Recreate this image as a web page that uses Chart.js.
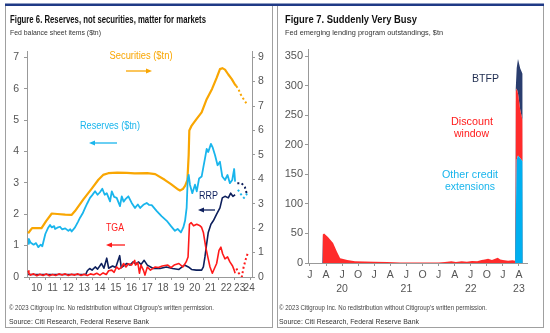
<!DOCTYPE html>
<html>
<head>
<meta charset="utf-8">
<script src="https://cdn.jsdelivr.net/npm/chart.js@4"></script>
<style>
html,body{margin:0;padding:0;background:#fff;}
#wrap{position:relative;width:550px;height:333px;overflow:hidden;background:#fff;}
canvas{position:absolute;}
svg{position:absolute;left:0;top:0;pointer-events:none;}
</style>
</head>
<body>
<div id="wrap">
<canvas id="cl" width="275" height="260" style="left:0;top:40px"></canvas>
<canvas id="cr" width="275" height="260" style="left:275px;top:40px"></canvas>
<svg width="550" height="333" viewBox="0 0 550 333">
  <rect x="5.5" y="5.5" width="267" height="322" fill="none" stroke="#a0a0a0" stroke-width="1"/>
  <rect x="277.5" y="5.5" width="266" height="322" fill="none" stroke="#a0a0a0" stroke-width="1"/>
  <rect x="5" y="3.5" width="539" height="2.5" fill="#1f3a86"/>
  <line x1="126" y1="71" x2="147" y2="71" stroke="#f9a602" stroke-width="1.3"/>
  <polygon points="152,71 146,68.5 146,73.5" fill="#f9a602"/>
  <line x1="117" y1="143" x2="94" y2="143" stroke="#19b5ec" stroke-width="1.3"/>
  <polygon points="89,143 95,140.5 95,145.5" fill="#19b5ec"/>
  <line x1="125" y1="245" x2="111" y2="245" stroke="#ff1a1a" stroke-width="1.3"/>
  <polygon points="106,245 112,242.5 112,247.5" fill="#ff1a1a"/>
  <line x1="215" y1="210" x2="203" y2="210" stroke="#0d1f5c" stroke-width="1.3"/>
  <polygon points="198,210 204,207.5 204,212.5" fill="#0d1f5c"/>
</svg>
</div>
<script>
// ---------- Figure 6 data (decimal years) ----------
const secYears = [2009.95,2010.2,2010.8,2011.1,2011.45,2011.8,2012.3,2012.7,2012.92,2013.45,2013.98,2014.4,2014.7,2015.03,2015.6,2016.2,2016.7,2017.5,2018.0,2018.6,2019.0,2019.46,2019.57,2019.75,2019.9,2020.04,2020.12,2020.16,2020.31,2020.6,2020.94,2021.26,2021.6,2021.89,2022.1,2022.25,2022.42,2022.63,2022.85,2023.05,2023.14];
const secVals  = [1.79,2.0,2.0,2.3,2.6,2.58,2.55,2.54,2.7,3.18,3.62,3.98,4.18,4.25,4.27,4.26,4.24,4.25,4.21,3.98,3.8,3.58,3.54,3.6,3.74,3.98,5.0,6.0,6.2,6.45,6.74,7.28,7.7,8.15,8.51,8.55,8.49,8.29,8.1,7.88,7.82];
const secProjYears = [2023.14,2023.29,2023.41,2023.56,2023.71,2023.81];
const secProjVals  = [7.82,7.66,7.48,7.32,7.17,7.07];

const resYears = [2009.95,2010.0,2010.1,2010.3,2010.45,2010.6,2010.75,2010.85,2011.04,2011.2,2011.34,2011.45,2011.6,2011.66,2011.8,2011.97,2012.1,2012.3,2012.5,2012.62,2012.71,2012.92,2013.1,2013.24,2013.4,2013.56,2013.7,2013.87,2014.0,2014.19,2014.35,2014.5,2014.65,2014.8,2014.93,2015.14,2015.25,2015.4,2015.56,2015.77,2015.88,2016.0,2016.1,2016.3,2016.51,2016.72,2016.9,2017.05,2017.25,2017.46,2017.6,2017.78,2018.1,2018.4,2018.73,2019.0,2019.25,2019.42,2019.63,2019.78,2019.89,2019.99,2020.06,2020.12,2020.2,2020.35,2020.52,2020.63,2020.78,2020.94,2021.05,2021.15,2021.26,2021.36,2021.53,2021.63,2021.79,2021.95,2022.1,2022.25,2022.42,2022.58,2022.73,2022.88,2023.0,2023.06];
const resVals  = [1.06,1.21,1.1,1.03,1.08,0.95,1.03,0.98,1.37,1.55,1.66,1.58,1.62,1.53,1.57,1.6,1.52,1.55,1.47,1.52,1.45,1.58,1.75,1.89,2.02,2.2,2.35,2.52,2.6,2.73,2.62,2.7,2.81,2.62,2.67,2.41,2.73,2.55,2.52,2.26,2.57,2.4,2.47,2.57,2.36,2.2,2.31,2.2,2.3,2.36,2.3,2.29,2.1,1.94,1.79,1.62,1.47,1.53,1.42,1.58,1.79,2.2,3.14,3.25,2.94,2.67,2.94,2.73,3.14,3.2,3.5,3.77,4.08,3.98,4.24,4.14,3.88,3.56,3.67,3.2,3.09,3.25,2.99,3.09,3.44,3.04];
const resProjYears = [2023.24,2023.41,2023.62,2023.77,2023.87];
const resProjVals  = [2.78,2.65,2.52,2.62,2.7];

const rrpYears = [2009.95,2013.6,2013.7,2013.85,2014.0,2014.2,2014.35,2014.6,2014.75,2014.93,2015.05,2015.3,2015.5,2015.75,2015.85,2016.2,2016.4,2016.6,2016.75,2016.95,2017.1,2017.3,2017.5,2017.88,2018.3,2018.7,2019.1,2019.5,2019.85,2020.1,2020.3,2020.6,2020.94,2021.05,2021.15,2021.26,2021.36,2021.53,2021.68,2021.89,2022.1,2022.25,2022.42,2022.63,2022.78,2022.92,2023.06];
const rrpVals  = [0.08,0.08,0.2,0.27,0.22,0.32,0.25,0.43,0.28,0.6,0.28,0.35,0.3,0.68,0.3,0.43,0.38,0.48,0.42,0.48,0.4,0.53,0.38,0.27,0.27,0.32,0.27,0.24,0.38,0.32,0.24,0.22,0.22,0.32,0.64,1.06,1.42,1.68,1.79,2.0,2.2,2.52,2.57,2.52,2.67,2.57,2.62];
const rrpProjYears = [2023.2,2023.47,2023.68,2023.79];
const rrpProjVals  = [2.99,2.99,2.86,2.67];

const tgaYears = [2009.95,2010.0,2010.1,2010.3,2010.5,2010.7,2010.9,2011.1,2011.3,2011.5,2011.7,2011.9,2012.1,2012.3,2012.5,2012.7,2012.9,2013.1,2013.3,2013.5,2013.7,2013.9,2014.1,2014.3,2014.5,2014.7,2014.9,2015.05,2015.25,2015.4,2015.55,2015.7,2015.85,2016.0,2016.15,2016.3,2016.5,2016.7,2016.75,2016.9,2017.0,2017.1,2017.25,2017.35,2017.5,2017.7,2018.0,2018.2,2018.45,2018.8,2019.0,2019.2,2019.5,2019.75,2019.96,2020.08,2020.17,2020.28,2020.43,2020.63,2020.84,2020.94,2021.05,2021.2,2021.33,2021.47,2021.62,2021.75,2021.89,2022.04,2022.16,2022.27,2022.42,2022.58,2022.73,2022.9,2023.0,2023.06];
const tgaVals  = [0.2,0.12,0.06,0.1,0.04,0.09,0.05,0.1,0.04,0.08,0.05,0.1,0.06,0.1,0.05,0.09,0.06,0.1,0.05,0.09,0.05,0.1,0.07,0.12,0.06,0.13,0.08,0.2,0.22,0.15,0.32,0.25,0.3,0.43,0.32,0.42,0.38,0.53,0.38,0.45,0.12,0.38,0.22,0.06,0.32,0.22,0.32,0.3,0.35,0.38,0.3,0.38,0.43,0.32,0.48,0.64,1.68,1.73,1.63,1.68,1.63,1.58,1.42,0.95,0.64,0.32,0.12,0.27,0.43,0.85,0.95,0.74,0.58,0.64,0.48,0.35,0.22,0.12];
const tgaProjYears = [2023.14,2023.28,2023.49,2023.6,2023.75,2023.85];
const tgaProjVals  = [0.27,0.13,0.01,0.32,0.59,0.74];

const leftTicks  = [0,1,2,3,4,5,6,7];
const rightTicks = [0,1,2,3,4,5,6,7,8,9];
const yearTickVals   = [2010.5,2011.5,2012.5,2013.5,2014.5,2015.5,2016.5,2017.5,2018.5,2019.5,2020.5,2021.5,2022.5,2023.35,2023.95];
const yearTickLabels = ['10','11','12','13','14','15','16','17','18','19','20','21','22','23','24'];

// ---------- Figure 7 data (decimal years, $bn) ----------
const lendDates = [2020.0,2020.19,2020.2,2020.22,2020.28,2020.36,2020.42,2020.47,2020.58,2020.7,2020.85,2021.0,2021.2,2021.4,2021.6,2021.8,2022.0,2022.1,2022.2,2022.27,2022.36,2022.44,2022.52,2022.6,2022.67,2022.72,2022.77,2022.83,2022.88,2022.92,2022.96,2023.0,2023.08,2023.15,2023.19,2023.2,2023.215,2023.235,2023.27,2023.305,2023.31];
const otherCredit    = [0,0,0,0,0,0,0,0,0,0,0,0,0,0,0,0,0,0,0,0,0,0,0,0,0,0,0,0,0,0,0,0,0,0,0,0,175,182,177,172,0];
const discountWindow = [0,0,48,50,44,34,19,8,5,3,2.5,2,1.5,1,0.8,0.8,1,1.5,3,1.5,3,2,3.5,3,5,6,7,5,7,9,6,5,4,4.5,4,290,120,105,82,70,0];
const btfp           = [0,0,0,0,0,0,0,0,0,0,0,0,0,0,0,0,0,0,0,0,0,0,0,0,0,0,0,0,0,0,0,0,0,0,0,5,35,58,70,78,0];
const lendTicks = [0,50,100,150,200,250,300,350];
const qTicks  = [2020.0,2020.25,2020.5,2020.75,2021.0,2021.25,2021.5,2021.75,2022.0,2022.25,2022.5,2022.75,2023.0,2023.25];
const qLabels = ['J','A','J','O','J','A','J','O','J','A','J','O','J','A'];
const yrLabels = ['','','20','','','','21','','','','22','','','23'];

// ---------- helpers ----------
const pts = (xs, ys) => xs.map((x, i) => ({x: x, y: ys[i]}));
const FONT = "'Liberation Sans', Arial, sans-serif";
Chart.defaults.font.family = FONT;
const ORANGE = '#f9a602', LBLUE = '#19b5ec', RED = '#ff1a1a', NAVY = '#0d1f5c';

const yearTickMarks = {
  id: 'yearTickMarks',
  afterDraw(chart) {
    const s = chart.scales.x, ctx = chart.ctx;
    ctx.save();
    ctx.strokeStyle = '#999';
    ctx.lineWidth = 1;
    for (let y = Math.ceil(s.min); y <= Math.floor(s.max); y++) {
      const px = Math.round(s.getPixelForValue(y)) + 0.5;
      ctx.beginPath();
      ctx.moveTo(px, s.top);
      ctx.lineTo(px, s.top + 3);
      ctx.stroke();
    }
    ctx.restore();
  }
};

const lineDs = (label, xs, ys, color, width, axis, order, dashed) => ({
  label, data: pts(xs, ys), borderColor: color, borderWidth: width, yAxisID: axis,
  order, pointRadius: 0, tension: 0, fill: false, borderDash: dashed ? [2, 2.5] : [],
  borderCapStyle: 'butt', borderJoinStyle: 'round'
});

const yAxisBase = (ticksArr, max, pos, width, pad) => ({
  type: 'linear', position: pos, min: 0, max: max,
  afterBuildTicks: s => { s.ticks = ticksArr.map(v => ({value: v})); },
  afterFit: s => { s.width = width; },
  grid: {display: true, drawOnChartArea: false, drawTicks: true, tickLength: 3, color: '#999'},
  border: {display: true, color: '#999'},
  ticks: {color: '#555', font: {size: 10.5}, padding: pad}
});

new Chart(document.getElementById('cl'), {
  type: 'line',
  data: {datasets: [
    lineDs('TGA', tgaYears, tgaVals, RED, 1.6, 'y', 0, false),
    lineDs('TGA proj', tgaProjYears, tgaProjVals, RED, 2, 'y', 0, true),
    lineDs('RRP', rrpYears, rrpVals, NAVY, 1.6, 'y', 1, false),
    lineDs('RRP proj', rrpProjYears, rrpProjVals, NAVY, 2, 'y', 1, true),
    lineDs('Reserves ($tn)', resYears, resVals, LBLUE, 1.8, 'y', 2, false),
    lineDs('Reserves proj', resProjYears, resProjVals, LBLUE, 2, 'y', 2, true),
    lineDs('Securities ($tn)', secYears, secVals, ORANGE, 2.2, 'y1', 3, false),
    lineDs('Securities proj', secProjYears, secProjVals, ORANGE, 2, 'y1', 3, true)
  ]},
  options: {
    responsive: false, animation: false, events: [],
    layout: {padding: {top: 8, left: 0, right: 0, bottom: 0}},
    plugins: {legend: {display: false}, tooltip: {enabled: false}},
    scales: {
      x: {
        type: 'linear', min: 2009.88, max: 2024.13,
        afterBuildTicks: s => { s.ticks = yearTickVals.map(v => ({value: v})); },
        afterFit: s => { s.height = 23; },
        grid: {display: false, drawTicks: false},
        border: {display: true, color: '#999'},
        ticks: {autoSkip: false, maxRotation: 0, padding: 5, color: '#555', font: {size: 10},
          callback: v => yearTickLabels[yearTickVals.indexOf(v)]}
      },
      y: yAxisBase(leftTicks, 7.19, 'left', 27, 5),
      y1: yAxisBase(rightTicks, 9.24, 'right', 23, 3)
    }
  },
  plugins: [yearTickMarks]
});

new Chart(document.getElementById('cr'), {
  type: 'line',
  data: {datasets: [
    {label: 'Other credit extensions', data: pts(lendDates, otherCredit), fill: 'origin',
     backgroundColor: '#00b0f0', borderColor: 'rgba(0,0,0,0)', borderWidth: 0, pointRadius: 0, tension: 0},
    {label: 'Discount window', data: pts(lendDates, discountWindow), fill: '-1',
     backgroundColor: 'rgba(255,20,20,0.9)', borderColor: 'rgba(0,0,0,0)', borderWidth: 0, pointRadius: 0, tension: 0},
    {label: 'BTFP', data: pts(lendDates, btfp), fill: '-1',
     backgroundColor: '#2a3d6e', borderColor: 'rgba(0,0,0,0)', borderWidth: 0, pointRadius: 0, tension: 0}
  ]},
  options: {
    responsive: false, animation: false, events: [],
    layout: {padding: {top: 9, left: 0, right: 23, bottom: 0}},
    plugins: {legend: {display: false}, tooltip: {enabled: false}, filler: {propagate: false}},
    scales: {
      x: {
        type: 'linear', min: 2019.97, max: 2023.375,
        afterBuildTicks: s => { s.ticks = qTicks.map(v => ({value: v})); },
        afterFit: s => { s.height = 37; },
        grid: {display: true, drawOnChartArea: false, drawTicks: true, tickLength: 3, color: '#999'},
        border: {display: true, color: '#999'},
        ticks: {autoSkip: false, maxRotation: 0, padding: 3, color: '#555', font: {size: 10.5, lineHeight: 1.25},
          callback: v => { const i = qTicks.indexOf(v); return yrLabels[i] ? [qLabels[i], yrLabels[i]] : qLabels[i]; }}
      },
      y: Object.assign(yAxisBase(lendTicks, 362, 'left', 33, 2), {stacked: true,
        ticks: {color: '#555', font: {size: 11}, padding: 2}})
    }
  }
});

// ---------- text ----------
const wrap = document.getElementById('wrap');
function label(txt, x, y, o) {
  const d = document.createElement('div');
  d.textContent = txt;
  d.style.cssText = 'position:absolute;left:0;top:0;white-space:nowrap;line-height:1;font-family:' + FONT +
    ';font-size:' + o.size + 'px;font-weight:' + (o.bold ? 'bold' : 'normal') + ';color:' + (o.color || '#222') + ';';
  wrap.appendChild(d);
  const r = d.getBoundingClientRect();
  const sx = o.w ? o.w / r.width : 1;
  const w = r.width * sx;
  const left = o.align === 'center' ? x - w / 2 : x;
  d.style.transformOrigin = '0 0';
  d.style.transform = 'translate(' + left + 'px,' + (y - r.height / 2) + 'px) scaleX(' + sx + ')';
}
label('Figure 6. Reserves, not securities, matter for markets', 10, 19, {size: 10.5, bold: true, color: '#111', w: 196});
label('Fed balance sheet items ($tn)', 10, 33, {size: 8, color: '#333', w: 91});
label('Figure 7. Suddenly Very Busy', 285, 19, {size: 10.5, bold: true, color: '#111', w: 132});
label('Fed emerging lending program outstandings, $tn', 285, 33, {size: 8, color: '#333', w: 158});
label('© 2023 Citigroup Inc. No redistribution without Citigroup’s written permission.', 9, 308, {size: 7.5, color: '#444', w: 205});
label('Source: Citi Research, Federal Reserve Bank', 9, 322, {size: 8, color: '#333', w: 140});
label('© 2023 Citigroup Inc. No redistribution without Citigroup’s written permission.', 279, 308, {size: 7.5, color: '#444', w: 208});
label('Source: Citi Research, Federal Reserve Bank', 279, 322, {size: 8, color: '#333', w: 140});

label('Securities ($tn)', 141, 56, {size: 10, color: ORANGE, align: 'center', w: 63});
label('Reserves ($tn)', 110, 126, {size: 10, color: LBLUE, align: 'center', w: 60});
label('TGA', 115, 228, {size: 10, color: RED, align: 'center', w: 18});
label('RRP', 208.5, 196, {size: 10, color: NAVY, align: 'center', w: 19});

label('BTFP', 485.5, 78, {size: 11, color: '#1f2d50', align: 'center', w: 27});
label('Discount', 472, 121, {size: 11, color: RED, align: 'center', w: 42});
label('window', 471.5, 133, {size: 11, color: RED, align: 'center', w: 35});
label('Other credit', 470, 174, {size: 11, color: LBLUE, align: 'center', w: 56});
label('extensions', 470, 186, {size: 11, color: LBLUE, align: 'center', w: 50});
</script>
</body>
</html>
